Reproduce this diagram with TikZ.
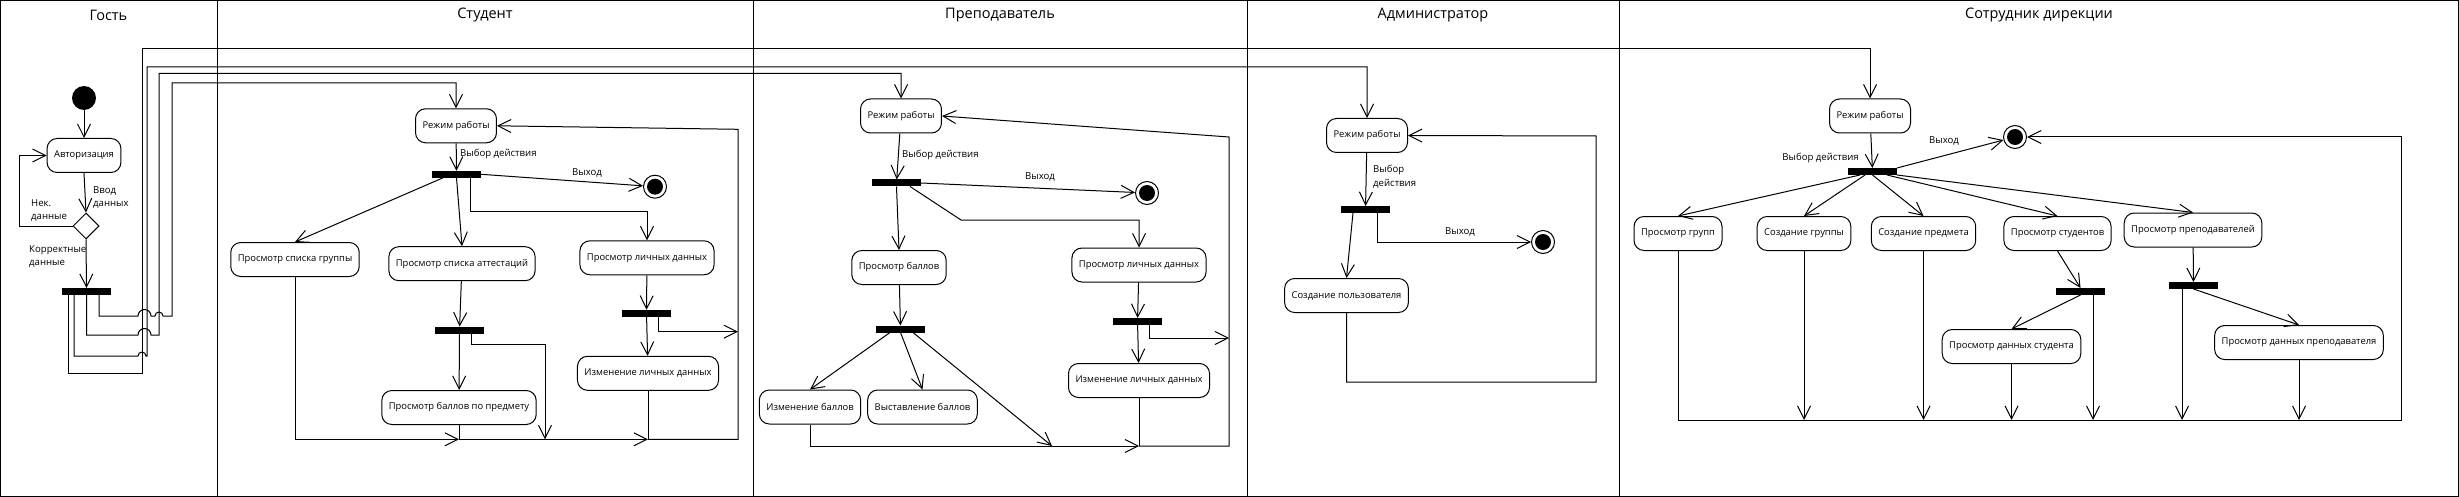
\documentclass[tikz,border=0pt]{standalone}
\usepackage{fontspec}
\setmainfont{Open Sans}
\usetikzlibrary{
  arrows.meta,
  positioning,
  shapes.geometric
}
\tikzset{
  % Shared values that are assigned to different keys in the styles below.
  globals/stroke/.initial=1pt,
  globals/bar width/.initial=49pt,
%
  % For every line of the diagram.
  line/.style={
    line width=\pgfkeysvalueof{/tikz/globals/stroke}},
%
  % For transitions, with an open arrow head.
  flow/.style={
    line,
    -{Straight Barb[length=13pt,width=13pt]}},
%
  % For activities.
  action/.style={
    line,
    draw,
    rounded corners=10pt,
    minimum height=34pt,
    inner xsep=7pt,
    font=\fontsize{9.4pt}{12pt}\selectfont},
%
  % For fork bars.
  fork bar/.style={
    fill,
    minimum width=\pgfkeysvalueof{/tikz/globals/bar width},
    minimum height=7pt,
    inner sep=0pt,
    outer sep=0pt},
%
  % For the initial node.
  start node/.style={
    circle,
    fill,
    minimum size=24pt,
    inner sep=0pt},
%
  % For final nodes.  A ring with a filled circle at its center.
  stop node/.style={
    circle,
    line,
    draw,
    minimum size=23pt,
    inner sep=0pt,
    append after command={%
      \pgfextra{%
        \node[circle,
              fill,
              minimum size=16pt,
              inner sep=0pt] at (\tikzlastnode.center) {};}}},
%
  % For the decision.
  choice/.style={
    diamond,
    line,
    draw,
    minimum width=26pt,
    minimum height=26pt,
    inner sep=0pt},
%
  % For guards next to the transitions.
  guard/.style={
    font=\fontsize{9.6pt}{13.5pt}\selectfont,
    align=left,
    inner sep=0pt},
%
  % For the titles of the swimlanes.
  lane title/.style={
    font=\fontsize{14.5pt}{17pt}\selectfont}
}

\begin{document}
\begin{tikzpicture}[x=1pt,y=-1pt]
  \useasboundingbox (0,0) rectangle (2459,497);

  % Swimlanes.
  \draw[line] (0.5,0.5) rectangle (2458.5,496.5);
  \foreach \x in {217,753,1247,1619}
    \draw[line] (\x,0) -- (\x,497);
  \node[lane title] (guestTitle) at (108.5,15) {Гость};
  \node[lane title] (studentTitle) at (485,15) {Студент};
  \node[lane title] (teacherTitle) at (1000,15) {Преподаватель};
  \node[lane title] (adminTitle) at (1433,15) {Администратор};
  \node[lane title] (officeTitle) at (2039,15) {Сотрудник дирекции};

  % Guest.
  \node[start node] (guestStart) at (84,98) {};
  \node[action] (auth) at (84,155.5) {Авторизация};
  \node[choice] (check) at (86,226) {};
  \node[fork bar] (guestFork) at (86.5,291.5) {};
  \coordinate (retryCorner) at (19,226);

  \draw[flow] (guestStart) -- (auth);
  \draw[flow] (auth.south) -- (check.north);
  \draw[flow] (check.west) -- (retryCorner) |- (auth.west);
  \draw[flow] (check.south) -- (guestFork.north);
  \node[guard,anchor=north west] (inputGuard) at (93,186) {Ввод\\данных};
  \node[guard,anchor=north west] (wrongGuard) at (31,199) {Нек.\\данные};
  \node[guard,anchor=north west] (rightGuard) at (29,245) {Корректные\\данные};

  % Student.
  \node[action] (studentMode) at (456,125.8) {Режим работы};
  \node[fork bar] (studentFork) at (456.5,174.3) {};
  \node[stop node] (studentEnd) at (655,186.7) {};
  \node[action] (groupList) at (295,259.5) {Просмотр списка группы};
  \node[action] (attestList) at (462,263.7) {Просмотр списка аттестаций};
  \node[action] (studentInfo) at (647,257.8) {Просмотр личных данных};
  \node[fork bar] (attestFork) at (459.5,330) {};
  \node[action] (subjectMarks) at (459,407.5) {Просмотр баллов по предмету};
  \node[fork bar] (studentInfoFork) at (646.5,313.3) {};
  \node[action] (studentInfoEdit) at (648,373.3) {Изменение личных данных};
  \coordinate (studentJoinA) at (459,439.3);
  \coordinate (studentJoinB) at (648,439.3);

  \draw[flow] (studentMode) -- (studentFork);
  \node[guard,anchor=west] (studentChoice) at (460,154) {Выбор действия};
  \draw[flow] (studentFork.east) -- (studentEnd);
  \node[guard] (studentExit) at (587,172.7) {Выход};
  \draw[flow] ([xshift=11pt]studentFork.south west) -- (groupList.north);
  \draw[flow] (studentFork.south) -- (attestList.north);
  \draw[flow] ([xshift=-11pt]studentFork.south east) -- ++(0,34) -| (studentInfo.north);
  \draw[flow] (attestList) -- (attestFork);
  \draw[flow] (attestFork) -- (subjectMarks);
  \draw[flow] ([xshift=-13pt]attestFork.south east) -- ++(0,11) -| (545,439.3);
  \draw[flow] (groupList.south) |- (studentJoinA);
  \draw[line] (subjectMarks.south) -- (studentJoinA);
  \draw[flow] (studentJoinA) -- (studentJoinB);
  \draw[line] (studentInfoEdit.south) -- (studentJoinB);
  \draw[flow] (studentJoinB) -- (738,439.3) -- (738,129.3) -- (studentMode.east);
  \draw[flow] (studentInfo) -- (studentInfoFork);
  \draw[flow] (studentInfoFork) -- (studentInfoEdit);
  \draw[flow] ([xshift=-13pt]studentInfoFork.south east) |- (738,331.7);

  % Teacher.
  \node[action] (teacherMode) at (901,116) {Режим работы};
  \node[fork bar] (teacherFork) at (896.5,183) {};
  \node[stop node] (teacherEnd) at (1147,193) {};
  \node[action] (marksView) at (899,267.5) {Просмотр баллов};
  \node[action] (teacherInfo) at (1139,265) {Просмотр личных данных};
  \node[fork bar] (marksFork) at (900.5,329) {};
  \node[action] (marksEdit) at (810,407) {Изменение баллов};
  \node[action] (marksSet) at (922.5,407) {Выставление баллов};
  \node[fork bar] (teacherInfoFork) at (1137.5,321.5) {};
  \node[action] (teacherInfoEdit) at (1139,380.5) {Изменение личных данных};
  \coordinate (teacherJoinA) at (1052,446);
  \coordinate (teacherJoinB) at (1139,446);

  \draw[flow] (teacherMode) -- (teacherFork);
  \node[guard,anchor=west] (teacherChoice) at (902,155) {Выбор действия};
  \draw[flow] (teacherFork.east) -- (teacherEnd);
  \node[guard] (teacherExit) at (1040,177) {Выход};
  \draw[flow] (teacherFork.south) -- (marksView.north);
  \draw[flow] ([xshift=-11pt]teacherFork.south east) -- (961,220) -| (teacherInfo.north);
  \draw[flow] (marksView) -- (marksFork);
  \draw[flow] ([xshift=14pt]marksFork.south west) -- (marksEdit.north);
  \draw[flow] (marksFork.south) -- (marksSet.north);
  \draw[flow] ([xshift=-12pt]marksFork.south east) -- (teacherJoinA);
  \draw[line] (marksEdit.south) |- (teacherJoinA);
  \draw[flow] (teacherJoinA) -- (teacherJoinB);
  \draw[line] (teacherInfoEdit.south) -- (teacherJoinB);
  \draw[flow] (teacherJoinB) -- (1229,446) -- (1229,137) -- (teacherMode.east);
  \draw[flow] (teacherInfo) -- (teacherInfoFork);
  \draw[flow] (teacherInfoFork) -- (teacherInfoEdit);
  \draw[flow] ([xshift=-13pt]teacherInfoFork.south east) |- (1229,338);

  % Administrator.
  \node[action] (adminMode) at (1367,135.5) {Режим работы};
  \node[fork bar] (adminFork) at (1365.5,209.5) {};
  \node[action] (userCreate) at (1346.5,295.5) {Создание пользователя};
  \node[stop node] (adminEnd) at (1543,242) {};

  \draw[flow] (adminMode) -- (adminFork);
  \node[guard,anchor=north west] (adminChoice) at (1373,165) {Выбор\\действия};
  \draw[flow] ([xshift=12pt]adminFork.south west) -- (userCreate.north);
  \draw[flow] ([xshift=-13pt]adminFork.south east) |- (adminEnd);
  \node[guard] (adminExit) at (1460,232) {Выход};
  \draw[flow] (userCreate.south) |- (1596,382) -- (1596,136) -- (adminMode.east);

  % Office.
  \node[action] (officeMode) at (1870,116) {Режим работы};
  \node[fork bar] (officeFork) at (1872.5,171.5) {};
  \node[stop node] (officeEnd) at (2015,137) {};
  \node[action] (groupsView) at (1678,233.5) {Просмотр групп};
  \node[action] (groupCreate) at (1804,233.5) {Создание группы};
  \node[action] (subjectCreate) at (1923.5,233.5) {Создание предмета};
  \node[action] (studentsView) at (2057.5,233.5) {Просмотр студентов};
  \node[action] (teachersView) at (2193,230) {Просмотр преподавателей};
  \node[fork bar] (studentsFork) at (2080.5,291.5) {};
  \node[fork bar] (teachersFork) at (2193.5,285.5) {};
  \node[action] (studentData) at (2011.5,346.5) {Просмотр данных студента};
  \node[action] (teacherData) at (2299,342.5) {Просмотр данных преподавателя};
  \coordinate (officeBottom) at (2401,420);

  \draw[flow] (officeMode) -- (officeFork);
  \node[guard,anchor=east] (officeChoice) at (1859,158) {Выбор действия};
  \draw[flow] (officeFork.north east) -- (officeEnd);
  \node[guard] (officeExit) at (1944,141) {Выход};
  \draw[flow] ([xshift=12pt]officeFork.south west) -- (groupsView.north);
  \draw[flow] ([xshift=17pt]officeFork.south west) -- (groupCreate.north);
  \draw[flow] (officeFork.south) -- (subjectCreate.north);
  \draw[flow] ([xshift=-10pt]officeFork.south east) -- (studentsView.north);
  \draw[flow] (officeFork.south east) -- (teachersView.north);
  \draw[flow] (studentsView.south) -- (studentsFork.north);
  \draw[flow] (studentsFork.south) -- (studentData.north);
  \draw[flow] ([xshift=-12pt]studentsFork.south east) -- ++(0,125);
  \draw[flow] (teachersView) -- (teachersFork);
  \draw[flow] (teachersFork.south) -- (teacherData.north);
  \draw[flow] ([xshift=13pt]teachersFork.south west) -- ++(0,131);
  \draw[flow] (teacherData) -- (teacherData |- officeBottom);
  \draw[flow] (studentData) -- (studentData |- officeBottom);
  \draw[flow] (subjectCreate) -- (subjectCreate |- officeBottom);
  \draw[flow] (groupCreate) -- (groupCreate |- officeBottom);
  \draw[flow] (groupsView.south) |- (officeBottom) -- (2401,137) -- (officeEnd);

  % From the guest to every working mode, hopping over the other lines.
  \draw[flow] ([xshift=6pt]guestFork.south west) |- (142,373) -- (142,49)
    -| (officeMode.north);
  \draw[flow] ([xshift=12pt]guestFork.south west) |- (138,356)
    arc[start angle=180,end angle=360,radius=4] -- (147,356) -- (147,67)
    -| (adminMode.north);
  \draw[flow] (guestFork.south) |- (138,335)
    arc[start angle=180,end angle=360,radius=6.5] -- (159,335) -- (159,73.5)
    -| (teacherMode.north);
  \draw[flow] ([xshift=12.5pt]guestFork.south) |- (138,316)
    arc[start angle=180,end angle=360,radius=6.5] -- (155,316)
    arc[start angle=180,end angle=360,radius=4] -- (172,316) -- (172,83)
    -| (studentMode.north);
\end{tikzpicture}
\end{document}
